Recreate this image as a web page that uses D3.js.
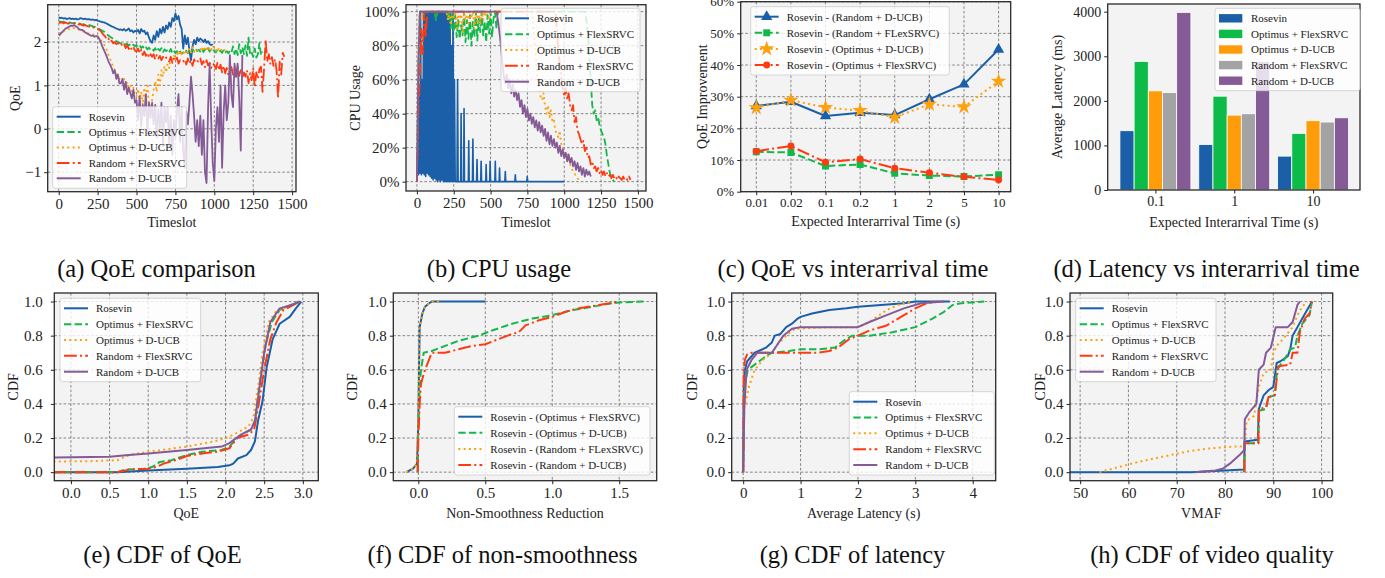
<!DOCTYPE html>
<html>
<head>
<meta charset="utf-8">
<script src="https://cdn.jsdelivr.net/npm/d3@7"></script>
<style>
body { margin: 0; background: #fff; }
</style>
</head>
<body>
<svg id="fig" width="1385" height="578"></svg>
<script>
// ---------- data ----------
const methods = ["Rosevin", "Optimus + FlexSRVC", "Optimus + D-UCB", "Random + FlexSRVC", "Random + D-UCB"]
const tsStep = 10

// (a) QoE per timeslot, one value every 10 timeslots
const qoeRosevin = [2.57,2.55,2.56,2.54,2.55,2.53,2.54,2.55,2.53,2.54,
  2.53,2.54,2.52,2.53,2.55,2.54,2.53,2.54,2.52,2.53,
  2.52,2.51,2.52,2.50,2.51,2.49,2.48,2.47,2.46,2.45,
  2.44,2.42,2.40,2.38,2.36,2.35,2.33,2.31,2.30,2.28,
  2.29,2.27,2.30,2.26,2.28,2.31,2.25,2.27,2.22,2.26,
  2.24,2.28,2.20,2.30,2.24,2.26,2.18,2.22,2.10,2.02,
  1.98,2.15,2.05,2.25,2.12,2.30,2.20,2.35,2.22,2.38,
  2.30,2.45,2.35,2.55,2.48,2.66,2.52,2.60,2.40,2.30,
  1.85,2.15,1.95,2.10,1.80,1.58,1.90,2.05,1.95,2.10,
  2.02,2.08,2.05,2.00,2.06,1.98,2.02,1.95,1.93,1.95]
const qoeOptFlex = [2.48,2.47,2.46,2.47,2.45,2.46,2.44,2.45,2.44,2.43,
  2.44,2.43,2.42,2.43,2.41,2.40,2.41,2.39,2.40,2.38,
  2.39,2.37,2.36,2.35,2.33,2.32,2.30,2.28,2.26,2.24,
  2.20,2.17,2.15,2.12,2.10,2.06,2.05,2.02,2.00,1.98,
  1.97,1.96,1.98,1.94,1.96,1.92,1.95,1.91,1.94,1.90,
  1.93,1.88,1.92,1.86,1.90,1.84,1.88,1.83,1.87,1.82,
  1.85,1.80,1.86,1.78,1.84,1.80,1.86,1.77,1.83,1.79,
  1.82,1.76,1.84,1.75,1.80,1.74,1.79,1.72,1.78,1.73,
  1.76,1.72,1.80,1.74,1.82,1.76,1.83,1.78,1.84,1.79,
  1.82,1.78,1.85,1.77,1.83,1.79,1.86,1.78,1.84,1.80,
  1.81,1.76,1.83,1.78,1.80,1.75,1.82,1.76,1.79,1.74,
  1.80,1.76,1.90,1.72,1.85,1.70,1.95,1.74,1.88,1.72,
  1.92,1.68,2.10,1.70,1.75,1.66,1.85,1.64,1.72,1.98,
  1.70,1.78]
const qoeOptDucb = [2.20,2.22,2.25,2.24,2.27,2.28,2.30,2.29,2.31,2.32,
  2.32,2.30,2.31,2.28,2.27,2.25,2.24,2.22,2.21,2.20,
  2.20,2.18,2.17,2.16,2.15,2.14,2.10,2.05,2.00,1.95,
  1.89,1.80,1.70,1.62,1.52,1.43,1.35,1.28,1.20,1.15,
  1.12,1.05,1.15,0.98,1.08,0.90,1.02,0.85,0.95,0.78,
  0.74,0.92,0.62,0.85,0.55,0.95,0.70,1.05,0.50,0.40,
  0.66,0.90,1.10,0.85,1.25,1.00,1.35,1.20,1.45,1.30,
  1.50,1.40,1.62,1.55,1.70,1.60,1.74,1.68,1.80,1.72,
  1.78,1.70,1.82,1.74,1.86,1.76,1.88,1.78,1.84,1.80,
  1.82,1.86,1.78,1.90,1.80,1.85,1.79,1.88,1.82,1.92,
  1.85,1.80,1.88,1.82,1.86,1.78,1.83,1.80]
const qoeRandFlex = [2.45,2.44,2.46,2.43,2.45,2.44,2.42,2.44,2.43,2.42,
  2.43,2.41,2.42,2.40,2.41,2.39,2.38,2.39,2.37,2.36,
  2.35,2.36,2.34,2.33,2.32,2.30,2.28,2.25,2.20,2.16,
  2.12,2.05,2.08,2.00,2.03,1.97,2.00,1.95,1.98,1.94,
  1.97,1.90,1.95,1.86,1.92,1.84,1.90,1.82,1.88,1.80,
  1.78,1.85,1.74,1.82,1.70,1.78,1.68,1.75,1.64,1.72,
  1.66,1.72,1.60,1.70,1.62,1.68,1.58,1.66,1.60,1.64,
  1.62,1.55,1.66,1.52,1.62,1.56,1.64,1.50,1.58,1.54,
  1.55,1.60,1.48,1.62,1.50,1.58,1.45,1.60,1.52,1.56,
  1.55,1.62,1.48,1.56,1.42,1.58,1.46,1.52,1.40,1.50,
  1.47,1.38,1.52,1.35,1.48,1.30,1.45,1.28,1.40,1.25,
  1.32,1.42,1.25,1.38,1.20,1.45,1.22,1.35,1.15,1.30,
  1.20,1.35,1.05,1.28,1.12,1.40,0.95,1.30,1.15,1.38,
  1.43,0.85,1.40,2.05,1.55,1.72,1.50,1.65,1.45,1.60,
  1.35,0.70,1.55,1.25,1.75,1.66]
const qoeRandDucb = [2.15,2.18,2.22,2.26,2.30,2.32,2.34,2.36,2.38,2.37,
  2.39,2.36,2.34,2.30,2.28,2.28,2.26,2.22,2.20,2.18,
  2.16,2.14,2.15,2.12,2.14,2.12,2.08,2.00,1.90,1.82,
  1.74,1.65,1.55,1.48,1.40,1.28,1.35,1.15,1.25,1.05,
  1.05,1.15,0.90,1.08,0.80,0.95,0.82,0.70,0.90,0.60,
  0.66,0.20,0.75,0.05,0.55,0.30,0.80,-0.10,0.60,0.25,
  0.60,0.10,0.55,-0.20,0.45,0.00,0.60,-0.40,0.50,0.15,
  0.50,-0.40,0.30,-0.60,0.20,-0.20,0.40,0.80,-0.30,0.50,
  -0.50,-0.90,0.40,0.10,0.60,1.20,0.80,0.30,-0.30,0.20,
  -0.40,0.30,-0.60,0.20,-1.00,-1.25,0.50,1.50,0.20,-0.80,
  -1.20,0.00,0.50,-0.30,1.00,-0.90,0.40,1.00,0.20,0.60,
  1.70,0.80,0.50,1.50,1.20,1.50,0.70,-0.50,1.70]

// (b) CPU usage (%), Rosevin as [timeslot, value] spikes, others every 10 timeslots
const cpuRosevin = [[0,3],[5,20],[10,4],[15,50],[20,5],[25,100],[30,4],[35,60],[40,5],[45,100],
  [50,4],[55,100],[60,3],[65,100],[70,5],[75,100],[80,4],[85,100],[90,3],[95,100],
  [100,2],[105,100],[110,1],[115,100],[120,2],[125,100],[130,1],[135,100],[140,0],[145,100],
  [150,1],[155,100],[160,0],[165,100],[170,1],[175,100],[180,0],[185,100],[190,0],[195,100],
  [200,0],[205,100],[210,0],[215,95],[220,0],[225,100],[230,0],[235,80],[240,0],[245,100],
  [250,0],[255,60],[260,0],[272,0],[276,60],[280,0],[297,0],[300,40],[303,0],[317,0],[320,43],[323,0],
  [349,0],[352,24],[355,0],[377,0],[380,25],[383,0],[405,0],[408,13],[411,0],[433,0],[436,12],[439,0],
  [467,0],[470,10],[473,0],[494,0],[497,12],[500,0],[529,0],[532,12],[535,0],[558,0],[561,8],[564,0],
  [597,0],[600,6],[603,0],[665,0],[668,4],[671,0],[746,0],[749,3],[752,0],[1000,0]]
const cpuOptFlex = [0,60,100,100,100,98,100,100,100,100,
  100,100,100,95,100,100,100,100,100,100,
  100,96,100,90,100,88,98,85,95,84,
  92,86,100,82,95,84,98,80,94,85,
  100,83,96,88,100,86,94,82,98,87,
  100,85,96,100,90,100,100,100,100,100,
  100,100,100,100,100,100,100,100,100,100,
  100,100,100,100,100,100,100,100,100,100,
  100,100,100,100,100,100,100,100,100,100,
  100,100,100,100,100,100,100,100,100,100,
  100,100,100,100,100,100,100,100,100,100,
  100,100,100,100,
  100,95,88,75,60,45,40,42,36,38,33,30,28,26,22,15,10,5,3,1,0]
const cpuOptDucb = [0,80,100,100,95,100,100,100,100,100,
  100,100,100,100,100,100,100,100,100,100,
  100,95,100,92,100,96,100,90,100,94,
  100,88,100,95,100,92,100,96,100,90,
  100,94,100,92,100,95,100,98,100,95,
  100,100,100,100,100,100,100,100,100,100,
  100,100,100,100,100,100,100,100,100,100,
  100,100,100,100,100,100,100,100,
  100,92,80,70,58,55,50,48,52,44,40,45,38,42,35,36,30,28,26,30,
  22,20,18,15,16,12,10,8,6,5,3,2,1,0]
const cpuRandFlex = [0,40,60,90,75,100,85,100,100,100,
  100,100,100,100,100,100,100,100,100,100,
  100,100,100,100,100,100,100,100,100,100,
  100,100,100,100,100,100,100,100,100,100,
  100,100,100,100,100,100,100,100,100,100,
  100,100,100,100,100,100,100,100,100,100,
  100,100,100,100,100,100,100,100,100,100,
  100,100,100,100,100,100,100,100,100,100,
  100,100,100,100,100,100,100,100,100,100,
  100,100,100,100,100,
  90,75,70,60,55,50,55,48,52,45,42,45,35,38,30,28,25,22,24,18,
  20,14,15,10,12,8,9,6,8,5,7,4,6,3,5,3,4,2,4,2,
  3,1,3,2,1,3,1,2,1,3,1]
const cpuRandDucb = [0,70,100,100,100,100,100,100,100,100,
  100,100,100,100,100,100,100,100,100,100,
  100,100,100,100,100,100,100,100,100,100,
  100,100,100,100,100,100,100,100,100,100,
  100,100,100,100,100,100,100,100,100,100,
  100,100,100,100,100,
  95,88,80,70,62,58,63,55,60,52,57,50,54,48,52,44,48,40,45,38,
  43,36,40,34,38,32,36,30,35,29,33,27,31,24,29,22,27,21,25,20,
  23,17,21,15,19,14,17,12,16,11,14,9,12,7,11,6,9,4,8,3,
  7,4,6,3]

// (c) QoE improvement (%) vs expected interarrival time
const interTimes = ["0.01", "0.02", "0.1", "0.2", "1", "2", "5", "10"]
const impRandDucb = [27.1, 28.4, 23.9, 24.9, 24.2, 29.2, 33.9, 44.9]
const impRandFlex = [12.6, 12.4, 8.1, 8.6, 5.8, 5.1, 4.8, 5.4]
const impOptDucb = [26.5, 28.9, 26.6, 25.6, 23.5, 27.6, 26.8, 34.9]
const impOptFlex = [12.8, 14.4, 9.3, 10.3, 7.4, 6.0, 4.7, 3.7]

// (d) average latency (ms)
const latCats = ["0.1", "1", "10"]
const latRosevin = [1330, 1020, 760]
const latOptFlex = [2885, 2105, 1270]
const latOptDucb = [2225, 1680, 1555]
const latRandFlex = [2185, 1710, 1525]
const latRandDucb = [3985, 2880, 1620]

// (e) CDF of QoE
const cdfQoeRosevin = [[-0.5,0],[0.6,0],[1.0,0.01],[1.5,0.02],[1.9,0.03],[2.05,0.04],[2.1,0.05],[2.16,0.08],[2.27,0.1],[2.33,0.13],[2.38,0.18],[2.42,0.3],[2.48,0.42],[2.53,0.61],[2.61,0.78],[2.7,0.87],[2.83,0.91],[2.91,0.96],[2.98,1.0]]
const cdfQoeOptFlex = [[-0.5,0],[0.6,0],[0.7,0.015],[0.95,0.02],[1.05,0.03],[1.15,0.06],[1.3,0.07],[1.5,0.1],[1.7,0.12],[1.95,0.13],[2.05,0.15],[2.15,0.2],[2.25,0.23],[2.33,0.25],[2.38,0.3],[2.45,0.55],[2.52,0.75],[2.6,0.88],[2.7,0.95],[2.85,0.98],[2.95,1.0]]
const cdfQoeOptDucb = [[-0.5,0.06],[0.3,0.065],[0.6,0.07],[0.75,0.1],[1.0,0.12],[1.5,0.15],[1.85,0.18],[2.0,0.2],[2.15,0.23],[2.3,0.27],[2.36,0.32],[2.42,0.5],[2.48,0.7],[2.56,0.88],[2.65,0.94],[2.8,0.97],[2.95,1.0]]
const cdfQoeRandFlex = [[-0.5,0],[0.6,0],[0.75,0.015],[1.0,0.02],[1.1,0.03],[1.2,0.05],[1.35,0.07],[1.5,0.095],[1.7,0.11],[1.9,0.12],[2.05,0.14],[2.15,0.2],[2.3,0.22],[2.37,0.25],[2.43,0.4],[2.5,0.6],[2.58,0.78],[2.66,0.88],[2.75,0.95],[2.88,0.98],[2.95,1.0]]
const cdfQoeRandDucb = [[-0.5,0.085],[0.5,0.09],[0.75,0.1],[1.0,0.11],[1.5,0.13],[1.95,0.15],[2.05,0.17],[2.2,0.22],[2.33,0.25],[2.38,0.3],[2.44,0.5],[2.5,0.7],[2.58,0.88],[2.7,0.96],[2.85,0.98],[2.97,1.0]]

// (f) CDF of non-smoothness reduction
const smoothLabels = ["Rosevin - (Optimus + FlexSRVC)", "Rosevin - (Optimus + D-UCB)", "Rosevin - (Random + FLexSRVC)", "Rosevin - (Random + D-UCB)"]
const cdfSmOptFlex = [[-0.09,0],[-0.04,0.02],[-0.01,0.05],[0.0,0.3],[0.005,0.6],[0.01,0.85],[0.03,0.93],[0.05,0.97],[0.08,0.99],[0.1,1.0],[0.5,1.0]]
const cdfSmOptDucb = [[-0.005,0],[0.0,0.3],[0.01,0.5],[0.02,0.6],[0.04,0.7],[0.1,0.71],[0.2,0.74],[0.3,0.77],[0.45,0.8],[0.55,0.83],[0.7,0.87],[0.85,0.9],[1.0,0.92],[1.15,0.95],[1.3,0.97],[1.45,0.99],[1.5,0.995],[1.68,1.0]]
const cdfSmRandFlex = [[-0.09,0],[-0.04,0.02],[-0.01,0.05],[0.0,0.3],[0.005,0.6],[0.01,0.85],[0.03,0.93],[0.05,0.97],[0.08,0.99],[0.1,1.0],[0.17,1.0]]
const cdfSmRandDucb = [[-0.005,0],[0.0,0.2],[0.01,0.4],[0.02,0.52],[0.05,0.6],[0.1,0.7],[0.2,0.7],[0.3,0.72],[0.4,0.74],[0.5,0.75],[0.6,0.78],[0.7,0.81],[0.75,0.82],[0.8,0.86],[0.9,0.89],[1.0,0.91],[1.1,0.94],[1.2,0.96],[1.35,0.98],[1.5,1.0]]

// (g) CDF of latency (s)
const cdfLatRosevin = [[0,0],[0.01,0.5],[0.03,0.6],[0.07,0.65],[0.2,0.7],[0.4,0.73],[0.5,0.76],[0.55,0.8],[0.65,0.81],[0.75,0.85],[0.85,0.87],[0.95,0.9],[1.0,0.91],[1.2,0.93],[1.5,0.95],[1.8,0.96],[2.0,0.97],[2.4,0.98],[2.8,0.99],[3.0,1.0],[3.6,1.0]]
const cdfLatOptFlex = [[0,0],[0.02,0.5],[0.08,0.6],[0.2,0.63],[0.4,0.68],[0.5,0.7],[0.8,0.71],[1.0,0.72],[1.3,0.72],[1.6,0.73],[1.75,0.77],[1.9,0.8],[2.2,0.8],[2.6,0.82],[3.0,0.85],[3.3,0.9],[3.5,0.94],[3.65,0.98],[3.8,0.99],[4.2,1.0]]
const cdfLatOptDucb = [[0,0],[0.02,0.38],[0.05,0.42],[0.1,0.5],[0.2,0.6],[0.35,0.66],[0.5,0.7],[0.6,0.75],[0.75,0.8],[0.9,0.84],[1.5,0.85],[2.0,0.85],[2.2,0.88],[2.5,0.95],[2.7,0.98],[2.95,1.0]]
const cdfLatRandFlex = [[0,0],[0.01,0.6],[0.03,0.66],[0.07,0.69],[0.15,0.7],[1.3,0.7],[1.5,0.71],[1.65,0.73],[1.85,0.78],[2.0,0.8],[2.2,0.83],[2.5,0.86],[2.8,0.92],[3.0,0.96],[3.2,0.99],[3.4,1.0]]
const cdfLatRandDucb = [[0,0],[0.02,0.38],[0.06,0.6],[0.15,0.66],[0.25,0.7],[0.5,0.7],[0.6,0.75],[0.7,0.8],[0.85,0.84],[1.0,0.85],[2.0,0.85],[2.2,0.88],[2.5,0.92],[2.8,0.96],[3.1,0.99],[3.5,1.0]]

// (h) CDF of VMAF
const cdfVmafRosevin = [[40,0],[73,0],[80,0.01],[84,0.015],[84.05,0.18],[86.8,0.19],[87,0.37],[88,0.45],[89,0.48],[90,0.5],[90.7,0.64],[91.5,0.65],[93,0.68],[93.5,0.72],[94,0.8],[95,0.85],[96,0.9],[97,0.95],[98,1.0]]
const cdfVmafOptFlex = [[84,0],[84.05,0.17],[86.9,0.17],[87,0.36],[88.5,0.37],[89,0.44],[90.3,0.45],[90.8,0.6],[91.5,0.63],[92.5,0.67],[93.5,0.72],[94.5,0.73],[95,0.8],[96,0.87],[97.5,0.92],[98,1.0]]
const cdfVmafOptDucb = [[54,0],[58,0.03],[62,0.06],[67,0.09],[72,0.12],[77,0.14],[82,0.15],[84,0.15],[84.5,0.3],[86,0.33],[87,0.5],[88,0.58],[89.5,0.6],[90,0.7],[91,0.75],[92,0.78],[94,0.85],[95,0.92],[96,0.97],[97,1.0]]
const cdfVmafRandFlex = [[84,0],[84.05,0.17],[86.9,0.17],[87,0.37],[88.5,0.38],[89,0.44],[90.3,0.45],[91,0.62],[93.5,0.63],[94,0.7],[95,0.7],[95.5,0.82],[96.5,0.9],[97.5,0.93],[98,1.0]]
const cdfVmafRandDucb = [[73.8,0],[78,0.01],[79.5,0.02],[81,0.05],[83,0.1],[84,0.13],[84.1,0.31],[85,0.35],[86.5,0.4],[87,0.6],[88,0.63],[88.5,0.7],[89.5,0.73],[90.5,0.85],[93,0.85],[94,0.88],[95,0.98],[95.5,1.0]]

// ---------- styles ----------
const colors = ["#1a5fa8", "#14b84a", "#ffa010", "#ff3a10", "#845b97"]
const barColors = ["#1a5fa8", "#0cbb48", "#ff9c0a", "#a3a3a3", "#845b97"]
const dashes = [null, "7.4,3.2", "2,3.3", "12.8,3.2,2,3.2", null]
const FONT = '"Liberation Serif", "Times New Roman", serif'

const svg = d3.select("#fig")
svg.append("rect").attr("width", 1385).attr("height", 578).attr("fill", "#fff")
let clipCount = 0

function panel(o) {
    const g = svg.append("g")
    const x = d3.scaleLinear().domain(o.xDomain).range([o.left, o.right])
    const y = d3.scaleLinear().domain(o.yDomain).range([o.bottom, o.top])
    g.append("rect")
        .attr("x", o.left).attr("y", o.top)
        .attr("width", o.right - o.left).attr("height", o.bottom - o.top)
        .attr("fill", "#f3f3f3")
    if (o.grid !== false) {
        g.append("g").selectAll("line").data(o.xTicks).join("line")
            .attr("x1", (d) => x(d)).attr("x2", (d) => x(d))
            .attr("y1", o.top).attr("y2", o.bottom)
            .attr("stroke", "#6a6a6a").attr("stroke-width", 0.8)
            .attr("stroke-dasharray", "2.6,2")
        g.append("g").selectAll("line").data(o.yTicks).join("line")
            .attr("y1", (d) => y(d)).attr("y2", (d) => y(d))
            .attr("x1", o.left).attr("x2", o.right)
            .attr("stroke", "#6a6a6a").attr("stroke-width", 0.8)
            .attr("stroke-dasharray", "2.6,2")
    }
    const id = "clip" + clipCount++
    g.append("clipPath").attr("id", id).append("rect")
        .attr("x", o.left).attr("y", o.top)
        .attr("width", o.right - o.left).attr("height", o.bottom - o.top)
    const plot = g.append("g").attr("clip-path", "url(#" + id + ")")
    return { g, x, y, plot, o }
}

function finish(p) {
    const { g, x, y, o } = p
    const fs = o.tickFont || 14
    const xa = g.append("g").attr("transform", "translate(0," + o.bottom + ")")
        .call(d3.axisBottom(x).tickValues(o.xTicks).tickFormat(o.xFmt).tickSize(3.5).tickPadding(3))
    const ya = g.append("g").attr("transform", "translate(" + o.left + ",0)")
        .call(d3.axisLeft(y).tickValues(o.yTicks).tickFormat(o.yFmt).tickSize(3.5).tickPadding(o.yPad || 3))
    ;[xa, ya].forEach((a) => {
        a.select(".domain").remove()
        a.selectAll("line").attr("stroke", "#222").attr("stroke-width", 1)
        a.selectAll("text").attr("font-family", FONT).attr("font-size", fs).attr("fill", "#222")
    })
    g.append("rect")
        .attr("x", o.left).attr("y", o.top)
        .attr("width", o.right - o.left).attr("height", o.bottom - o.top)
        .attr("fill", "none").attr("stroke", "#2a2a2a").attr("stroke-width", 1.3)
    g.append("text")
        .attr("x", (o.left + o.right) / 2).attr("y", o.xLabelY)
        .attr("text-anchor", "middle").attr("dy", "0.35em")
        .attr("font-family", FONT).attr("font-size", o.labelFont || 14).attr("fill", "#222")
        .text(o.xLabel)
    g.append("text")
        .attr("transform", "translate(" + o.yLabelX + "," + (o.top + o.bottom) / 2 + ") rotate(-90)")
        .attr("text-anchor", "middle").attr("dy", "0.35em")
        .attr("font-family", FONT).attr("font-size", o.labelFont || 14).attr("fill", "#222")
        .text(o.yLabel)
}

function drawLine(p, pts, i, lw) {
    p.plot.append("path")
        .datum(pts)
        .attr("d", d3.line().x((d) => p.x(d[0])).y((d) => p.y(d[1])))
        .attr("fill", "none")
        .attr("stroke", colors[i])
        .attr("stroke-width", lw)
        .attr("stroke-linejoin", "round")
        .attr("stroke-dasharray", dashes[i])
}

const withTime = (vals) => vals.map((v, i) => [i * tsStep, v])

function legend(g, box, items) {
    const lg = g.append("g")
    lg.append("rect")
        .attr("x", box[0]).attr("y", box[1]).attr("width", box[2]).attr("height", box[3])
        .attr("rx", 2.5).attr("fill", "#fff").attr("fill-opacity", 0.8)
        .attr("stroke", "#cccccc").attr("stroke-width", 0.8)
    const sp = (box[3] - 20) / (items.length - 1)
    items.forEach((it, i) => {
        const cy = box[1] + 10 + i * sp
        const hx = box[0] + 4
        if (it.patch) {
            lg.append("rect").attr("x", hx).attr("y", cy - 4.2)
                .attr("width", 23.3).attr("height", 8.4).attr("fill", it.color)
        } else {
            lg.append("line").attr("x1", hx).attr("x2", hx + 24)
                .attr("y1", cy).attr("y2", cy)
                .attr("stroke", it.color).attr("stroke-width", 2)
                .attr("stroke-dasharray", it.dash)
            if (it.marker) {
                lg.append("path")
                    .attr("transform", "translate(" + (hx + 12) + "," + cy + ")")
                    .attr("d", d3.symbol().type(it.marker).size(it.msize)())
                    .attr("fill", it.color)
            }
        }
        lg.append("text").attr("x", box[0] + 36).attr("y", cy).attr("dy", "0.35em")
            .attr("font-family", FONT).attr("font-size", 11).attr("fill", "#222")
            .text(it.label)
    })
}

const stdItems = methods.map((m, i) => ({ label: m, color: colors[i], dash: dashes[i] }))
const pctFmt = (d) => d + "%"
const f1 = d3.format(".1f")

// ---------- (a) QoE comparison ----------
{
    const p = panel({ left: 47.7, right: 296, top: 4.7, bottom: 191.7,
        xDomain: [-71, 1525], yDomain: [-1.45, 2.86], tickFont: 15,
        xTicks: [0, 250, 500, 750, 1000, 1250, 1500], yTicks: [-1, 0, 1, 2],
        xFmt: d3.format("d"), yFmt: d3.format("d"),
        xLabel: "Timeslot", xLabelY: 222, yLabel: "QoE", yLabelX: 15 })
    ;[qoeRosevin, qoeOptFlex, qoeOptDucb, qoeRandFlex, qoeRandDucb].forEach((s, i) =>
        drawLine(p, withTime(s), i, 1.8))
    finish(p)
    legend(p.g, [52.7, 106.7, 134, 81.6], stdItems)
}

// ---------- (b) CPU usage ----------
{
    const p = panel({ left: 406, right: 646, top: 4.7, bottom: 191,
        xDomain: [-74, 1555], yDomain: [-5.5, 104.1], tickFont: 15,
        xTicks: [0, 250, 500, 750, 1000, 1250, 1500], yTicks: [0, 20, 40, 60, 80, 100],
        xFmt: d3.format("d"), yFmt: pctFmt,
        xLabel: "Timeslot", xLabelY: 222, yLabel: "CPU Usage", yLabelX: 355 })
    drawLine(p, cpuRosevin, 0, 1.6)
    ;[cpuOptFlex, cpuOptDucb, cpuRandFlex, cpuRandDucb].forEach((s, i) =>
        drawLine(p, withTime(s), i + 1, 1.8))
    finish(p)
    legend(p.g, [501, 8.3, 139, 83.4], stdItems)
}

// ---------- (c) QoE vs interarrival time ----------
{
    const idx = interTimes.map((d, i) => i)
    const p = panel({ left: 740.7, right: 1010.7, top: 1.7, bottom: 191.7,
        xDomain: [-0.45, 7.35], yDomain: [0, 60],
        xTicks: idx, yTicks: [0, 10, 20, 30, 40, 50, 60],
        xFmt: (i) => interTimes[i], yFmt: pctFmt, tickFont: 13,
        xLabel: "Expected Interarrival Time (s)", xLabelY: 221,
        yLabel: "QoE Improvement", yLabelX: 702 })
    const series = [
        { vals: impRandDucb, ci: 0, marker: d3.symbolTriangle, msize: 55, label: "Rosevin - (Random + D-UCB)" },
        { vals: impRandFlex, ci: 1, marker: d3.symbolSquare, msize: 48, label: "Rosevin - (Random + FLexSRVC)" },
        { vals: impOptDucb, ci: 2, marker: d3.symbolStar, msize: 75, label: "Rosevin - (Optimus + D-UCB)" },
        { vals: impOptFlex, ci: 3, marker: d3.symbolCircle, msize: 38, label: "Rosevin - (Optimus + FlexSRVC)" },
    ]
    series.forEach((s) => {
        drawLine(p, s.vals.map((v, i) => [i, v]), s.ci, 2)
        p.plot.append("g").selectAll("path").data(s.vals).join("path")
            .attr("transform", (v, i) => "translate(" + p.x(i) + "," + p.y(v) + ")")
            .attr("d", d3.symbol().type(s.marker).size(s.msize)())
            .attr("fill", colors[s.ci])
    })
    finish(p)
    legend(p.g, [750.7, 6.7, 198.6, 68.3], series.map((s) => ({
        label: s.label, color: colors[s.ci], dash: dashes[s.ci], marker: s.marker, msize: s.msize })))
}

// ---------- (d) Latency vs interarrival time ----------
{
    const p = panel({ left: 1107.7, right: 1360, top: 4, bottom: 190,
        xDomain: [-0.605, 2.595], yDomain: [0, 4173], grid: false,
        xTicks: [0, 1, 2], yTicks: [0, 1000, 2000, 3000, 4000],
        xFmt: (i) => latCats[i], yFmt: d3.format("d"),
        xLabel: "Expected Interarrival Time (s)", xLabelY: 222,
        yLabel: "Average Latency (ms)", yLabelX: 1057 })
    const bw = 0.18
    const sets = [latRosevin, latOptFlex, latOptDucb, latRandFlex, latRandDucb]
    sets.forEach((vals, k) => {
        p.plot.append("g").selectAll("rect").data(vals).join("rect")
            .attr("x", (v, i) => p.x(i + (k - 2) * bw - bw / 2))
            .attr("width", p.x(bw) - p.x(0))
            .attr("y", (v) => p.y(v))
            .attr("height", (v) => p.y(0) - p.y(v))
            .attr("fill", barColors[k])
            .attr("stroke", "#fff").attr("stroke-width", 0.8)
    })
    finish(p)
    legend(p.g, [1215, 8.3, 145, 82.4], methods.map((m, k) => ({ label: m, color: barColors[k], patch: true })))
}

// ---------- bottom row CDFs ----------
const cdfTicks = [0, 0.2, 0.4, 0.6, 0.8, 1.0]
function cdfPanel(o, seriesList, box, items) {
    const p = panel(Object.assign({ top: 293, bottom: 480.7, yDomain: [-0.05, 1.05], tickFont: 15,
        yTicks: cdfTicks, yFmt: f1, xLabelY: 513, yLabel: "CDF" }, o))
    seriesList.forEach((s, i) => drawLine(p, s, i, 2))
    finish(p)
    legend(p.g, box, items)
}

cdfPanel({ left: 54.3, right: 318.3, xDomain: [-0.215, 3.2], yPad: 8,
    xTicks: [0, 0.5, 1, 1.5, 2, 2.5, 3], xFmt: f1, xLabel: "QoE", yLabelX: 13 },
    [cdfQoeRosevin, cdfQoeOptFlex, cdfQoeOptDucb, cdfQoeRandFlex, cdfQoeRandDucb],
    [60, 298.3, 140.7, 83.4], stdItems)

cdfPanel({ left: 393.3, right: 656.7, xDomain: [-0.187, 1.78],
    xTicks: [0, 0.5, 1, 1.5], xFmt: f1, xLabel: "Non-Smoothness Reduction", yLabelX: 352 },
    [cdfSmOptFlex, cdfSmOptDucb, cdfSmRandFlex, cdfSmRandDucb],
    [454.3, 406.7, 195.7, 68.3],
    smoothLabels.map((m, i) => ({ label: m, color: colors[i], dash: dashes[i] })))

cdfPanel({ left: 731.7, right: 995.7, xDomain: [-0.2, 4.4],
    xTicks: [0, 1, 2, 3, 4], xFmt: d3.format("d"), xLabel: "Average Latency (s)", yLabelX: 692 },
    [cdfLatRosevin, cdfLatOptFlex, cdfLatOptDucb, cdfLatRandFlex, cdfLatRandDucb],
    [849.3, 391.7, 145, 83.3], stdItems)

cdfPanel({ left: 1070, right: 1332.7, xDomain: [47.9, 102.3],
    xTicks: [50, 60, 70, 80, 90, 100], xFmt: d3.format("d"), xLabel: "VMAF", yLabelX: 1040 },
    [cdfVmafRosevin, cdfVmafOptFlex, cdfVmafOptDucb, cdfVmafRandFlex, cdfVmafRandDucb],
    [1075.7, 298.3, 140.3, 83.4], stdItems)

// ---------- captions ----------
const captions = [
    ["(a) QoE comparison", 156.5, 277], ["(b) CPU usage", 499, 277],
    ["(c) QoE vs interarrival time", 853, 277], ["(d) Latency vs interarrival time", 1206.5, 277],
    ["(e) CDF of QoE", 162.5, 563], ["(f) CDF of non-smoothness", 502.5, 563],
    ["(g) CDF of latency", 852.5, 563], ["(h) CDF of video quality", 1212, 563],
]
svg.append("g").selectAll("text").data(captions).join("text")
    .attr("x", (d) => d[1]).attr("y", (d) => d[2])
    .attr("text-anchor", "middle")
    .attr("font-family", FONT).attr("font-size", 24.5).attr("fill", "#111")
    .text((d) => d[0])
</script>
</body>
</html>
